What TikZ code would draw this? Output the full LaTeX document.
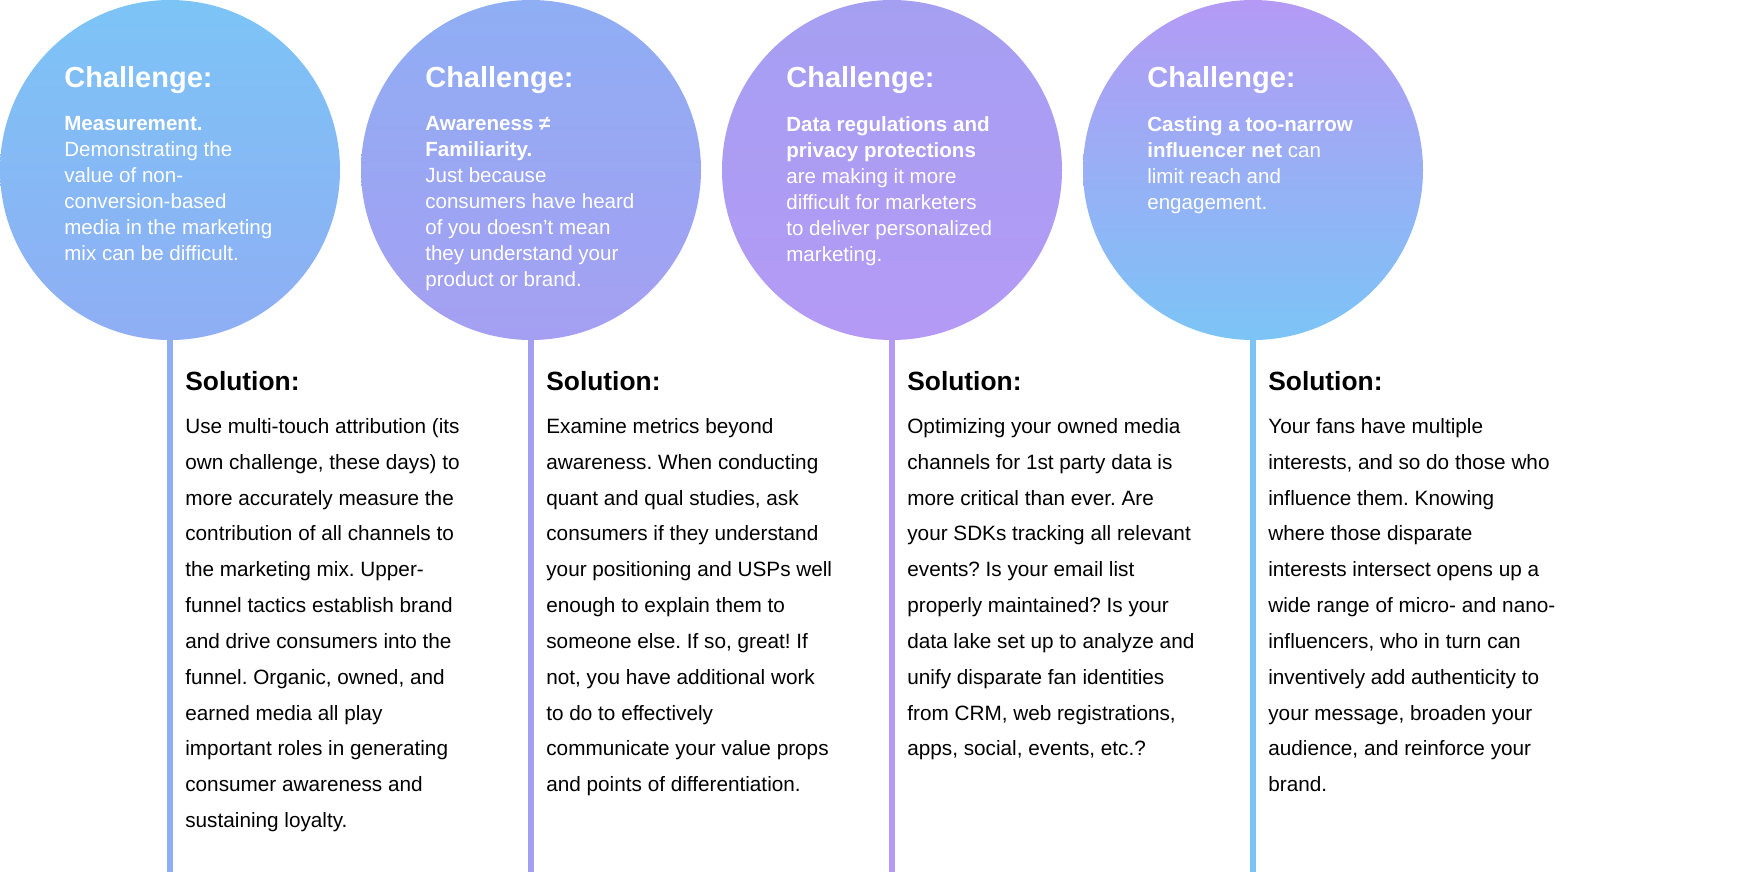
\documentclass[tikz,border=0pt]{standalone}
\usepackage{fontspec}
\setmainfont{Liberation Sans}
\frenchspacing
\usetikzlibrary{positioning}
\definecolor{skyb}{HTML}{7CC4F6}
\definecolor{midb}{HTML}{8FAEF4}
\definecolor{lavb}{HTML}{A59FF2}
\definecolor{purb}{HTML}{B49AF5}
\tikzset{
  disc/.style={circle, minimum size=340*0.02cm, inner sep=0pt},
  stem/.style={line width=3.4pt},
  chal/.style={anchor=north west, text=white, font=\bfseries\fontsize{16.5}{19}\selectfont, inner sep=0pt},
  chaltext/.style={anchor=north west, text=white, align=left, font=\fontsize{11.7}{14.8}\selectfont, inner sep=0pt},
  sol/.style={anchor=north west, font=\bfseries\fontsize{15}{17}\selectfont, inner sep=0pt},
  soltext/.style={anchor=north west, align=left, font=\fontsize{11.8}{20.4}\selectfont, inner sep=0pt},
}
\begin{document}
\begin{tikzpicture}[x=0.02cm, y=-0.02cm]
\useasboundingbox (0,0) rectangle (1745,872);
% stems
\draw[stem, midb] (170,330) coordinate (s1) -- (170,872) coordinate (e1);
\draw[stem, lavb] (531,330) coordinate (s2) -- (531,872) coordinate (e2);
\draw[stem, purb] (892,330) coordinate (s3) -- (892,872) coordinate (e3);
\draw[stem, skyb] (1253,330) coordinate (s4) -- (1253,872) coordinate (e4);
% circles
\node[disc, top color=skyb, bottom color=midb] (c1) at (170,170) {};
\node[disc, top color=midb, bottom color=lavb] (c2) at (531,170) {};
\node[disc, top color=lavb, bottom color=purb] (c3) at (892,170) {};
\node[disc, top color=purb, bottom color=skyb] (c4) at (1253,170) {};
% challenges
\node[chal] (h1) at (64,66) {Challenge:};
\node[chaltext] (t1) at (64,116) {\textbf{Measurement.}\\Demonstrating the\\value of non-\\conversion-based\\media in the marketing\\mix can be difficult.};
\node[chal] (h2) at (425,66) {Challenge:};
\node[chaltext] (t2) at (425,116) {\textbf{Awareness ≠}\\\textbf{Familiarity.}\\Just because\\consumers have heard\\of you doesn't mean\\they understand your\\product or brand.};
\node[chal] (h3) at (786,66) {Challenge:};
\node[chaltext] (t3) at (786,116) {\textbf{Data regulations and}\\\textbf{privacy protections}\\are making it more\\difficult for marketers\\to deliver personalized\\marketing.};
\node[chal] (h4) at (1147,66) {Challenge:};
\node[chaltext] (t4) at (1147,116) {\textbf{Casting a too-narrow}\\\textbf{influencer net} can\\limit reach and\\engagement.};
% solutions
\node[sol] (l1) at (185,371) {Solution:};
\node[soltext] (b1) at (185,418) {Use multi-touch attribution (its\\own challenge, these days) to\\more accurately measure the\\contribution of all channels to\\the marketing mix. Upper-\\funnel tactics establish brand\\and drive consumers into the\\funnel. Organic, owned, and\\earned media all play\\important roles in generating\\consumer awareness and\\sustaining loyalty.};
\node[sol] (l2) at (546,371) {Solution:};
\node[soltext] (b2) at (546,418) {Examine metrics beyond\\awareness. When conducting\\quant and qual studies, ask\\consumers if they understand\\your positioning and USPs well\\enough to explain them to\\someone else. If so, great! If\\not, you have additional work\\to do to effectively\\communicate your value props\\and points of differentiation.};
\node[sol] (l3) at (907,371) {Solution:};
\node[soltext] (b3) at (907,418) {Optimizing your owned media\\channels for 1st party data is\\more critical than ever. Are\\your SDKs tracking all relevant\\events? Is your email list\\properly maintained? Is your\\data lake set up to analyze and\\unify disparate fan identities\\from CRM, web registrations,\\apps, social, events, etc.?};
\node[sol] (l4) at (1268,371) {Solution:};
\node[soltext] (b4) at (1268,418) {Your fans have multiple\\interests, and so do those who\\influence them. Knowing\\where those disparate\\interests intersect opens up a\\wide range of micro- and nano-\\influencers, who in turn can\\inventively add authenticity to\\your message, broaden your\\audience, and reinforce your\\brand.};
\end{tikzpicture}
\end{document}
